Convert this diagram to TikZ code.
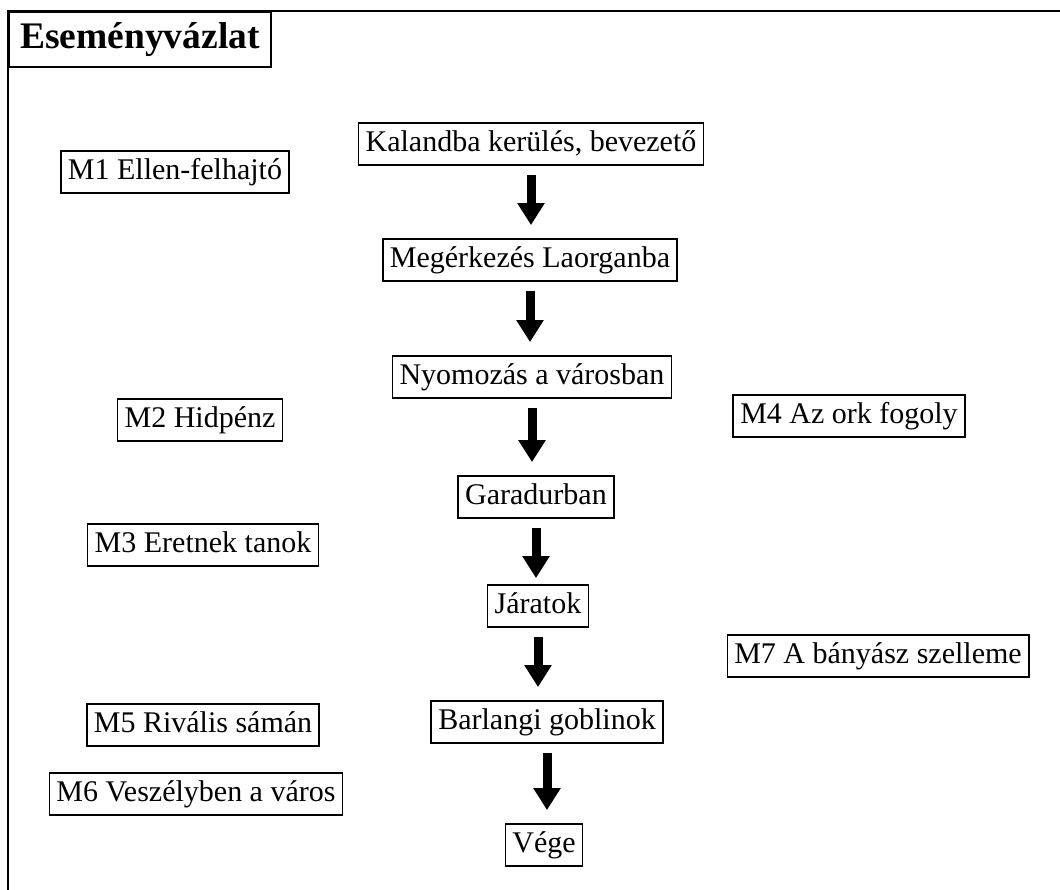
\documentclass[tikz,border=0pt]{standalone}
\usepackage{fontspec}
\setmainfont{Liberation Serif}
\usetikzlibrary{arrows.meta}

\begin{document}
\begin{tikzpicture}[
      x=1pt, y=-1pt,
      event/.style={draw, line width=1.6pt, font=\fontsize{30}{30}\selectfont,
        text height=21.6pt, text depth=6.6pt, inner xsep=7pt, inner ysep=7pt},
      heading/.style={draw, line width=1.8pt, font=\fontsize{37.5}{37.5}\selectfont\bfseries,
        minimum width=262pt, minimum height=55pt, anchor=north west, inner sep=0pt},
      arr/.style={-{Triangle[width=26pt, length=22pt]}, line width=9pt,
        shorten <=9pt, shorten >=13pt}
    ]
      \useasboundingbox (0,0) rectangle (1060,890);
      % Frame
      \draw[line width=2.6pt] (8,892) |- (1062,11);
      \node[heading] (title) at (8,11) {Eseményvázlat};

      % Main line of events
      \node[event] (kal) at (531,144) {Kalandba kerülés, bevezető};
      \node[event] (meg) at (530,260) {Megérkezés Laorganba};
      \node[event] (nyo) at (532,377) {Nyomozás a városban};
      \node[event] (gar) at (536,497) {Garadurban};
      \node[event] (jar) at (538,606) {Járatok};
      \node[event] (bar) at (547,722) {Barlangi goblinok};
      \node[event] (veg) at (544,845) {Vége};

      % Side events
      \node[event] (m1) at (175,172) {M1 Ellen-felhajtó};
      \node[event] (m2) at (200,420) {M2 Hidpénz};
      \node[event] (m3) at (203,545) {M3 Eretnek tanok};
      \node[event] (m4) at (849,416) {M4 Az ork fogoly};
      \node[event] (m7) at (878,656) {M7 A bányász szelleme};
      \node[event] (m5) at (203,725) {M5 Rivális sámán};
      \node[event] (m6) at (196,794) {M6 Veszélyben a város};

      % Arrows between events
      \draw[arr] (kal.south) -- (kal.south |- meg.north);
      \draw[arr] (meg.south) -- (meg.south |- nyo.north);
      \draw[arr] (nyo.south) -- (nyo.south |- gar.north);
      \draw[arr, shorten >=6pt] (gar.south) -- (gar.south |- jar.north);
      \draw[arr] (jar.south) -- (jar.south |- bar.north);
      \draw[arr] (bar.south) -- (bar.south |- veg.north);
    \end{tikzpicture}
\end{document}
